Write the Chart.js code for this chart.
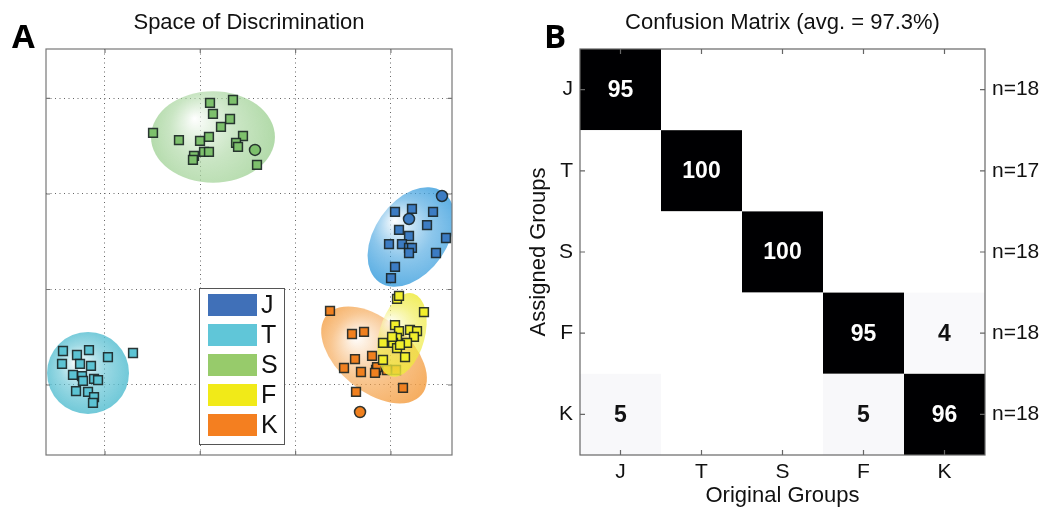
<!DOCTYPE html>
<html>
<head>
<meta charset="utf-8">
<script src="https://cdn.jsdelivr.net/npm/chart.js@4.4.1/dist/chart.umd.min.js"></script>
<style>
  html, body { margin: 0; padding: 0; background: #fff; }
  body { width: 1051px; height: 518px; position: relative; overflow: hidden; }
  .panel { position: absolute; top: 0; }
  .tag { position: absolute; font-family: 'Open Sans', sans-serif; font-weight: 700; font-size: 33px; line-height: 33px; color: #000; }
</style>
</head>
<body>
<div class="panel" style="left:0"><canvas id="space" width="493" height="518"></canvas></div>
<div class="panel" style="left:514px"><canvas id="confusion" width="537" height="518"></canvas></div>
<div class="tag" style="left:12px; top:19px">A</div>
<div class="tag" style="left:544px; top:19px">B</div>
<script>
// group codes, legend order
const groups = ['J', 'T', 'S', 'F', 'K'];

// discriminant scores of the training samples (squares)
const ptsJ = [[4.043, 2.812], [4.221, 2.843], [4.442, 2.812], [4.379, 2.675], [4.085, 2.623], [4.190, 2.560],
              [3.980, 2.476], [4.116, 2.476], [4.190, 2.435], [4.221, 2.435], [4.190, 2.382], [4.578, 2.539],
              [4.473, 2.382], [4.043, 2.236], [4.001, 2.120]];
const ptsT = [[0.559, 1.356], [0.706, 1.314], [0.832, 1.366], [1.031, 1.293], [1.294, 1.335], [0.549, 1.220],
              [0.738, 1.220], [0.853, 1.199], [0.664, 1.105], [0.759, 1.094], [0.769, 1.042], [0.885, 1.063],
              [0.927, 1.052], [0.696, 0.937], [0.822, 0.927], [0.885, 0.874], [0.874, 0.812]];
const ptsS = [[1.504, 3.639], [1.776, 3.565], [1.997, 3.555], [2.091, 3.597], [2.102, 3.953], [2.133, 3.838],
              [2.343, 3.984], [2.312, 3.785], [2.217, 3.702], [2.448, 3.607], [2.375, 3.534], [2.396, 3.492],
              [2.039, 3.440], [2.091, 3.440], [1.934, 3.398], [1.923, 3.356], [2.595, 3.304]];
const ptsF = [[4.064, 1.901], [4.085, 1.932], [4.347, 1.764], [4.043, 1.628], [4.085, 1.565], [4.200, 1.576],
              [4.274, 1.565], [4.064, 1.492], [4.242, 1.503], [3.917, 1.440], [4.022, 1.440], [4.169, 1.440],
              [4.064, 1.387], [4.148, 1.293], [3.917, 1.262], [4.095, 1.419], [4.012, 1.503]];
const ptsK = [[3.361, 1.775], [3.592, 1.534], [3.718, 1.555], [3.623, 1.272], [3.802, 1.304], [3.508, 1.178],
              [3.686, 1.136], [3.844, 1.157], [3.854, 1.188], [3.959, 1.157], [4.054, 1.157], [4.127, 0.969],
              [3.634, 0.927], [3.833, 1.126]];

// held-out samples (circles)
const testJ = [[4.536, 2.979], [4.190, 2.738]];
const testT = [];
const testS = [[2.574, 3.461]];
const testF = [];
const testK = [[3.676, 0.717]];

// 95% ellipses: centre x, centre y, semi-axis a, semi-axis b, angle of a (deg)
const ellJ = [4.211, 2.550, 0.58, 0.38, 55];
const ellT = [0.822, 1.126, 0.43, 0.43, 0];
const ellS = [2.133, 3.597, 0.65, 0.48, 0];
const ellF = [4.116, 1.524, 0.45, 0.24, 75];
const ellK = [3.823, 1.314, 0.65, 0.38, -40];

const gridX = [1, 2, 3, 4];
const gridY = [1, 2, 3, 4];

// confusion matrix in %, rows = assigned group, columns = original group
const confJ = [95, 0, 0, 0, 0];
const confT = [0, 100, 0, 0, 0];
const confS = [0, 0, 100, 0, 0];
const confF = [0, 0, 0, 95, 4];
const confK = [5, 0, 0, 5, 96];
const groupSizes = ['n=18', 'n=17', 'n=18', 'n=18', 'n=18'];

Chart.defaults.font.family = "'Liberation Sans', Arial, sans-serif";
Chart.defaults.color = '#111';

const pts = { J: ptsJ, T: ptsT, S: ptsS, F: ptsF, K: ptsK };
const tests = { J: testJ, T: testT, S: testS, F: testF, K: testK };
const ells = { J: ellJ, T: ellT, S: ellS, F: ellF, K: ellK };
const confRows = [confJ, confT, confS, confF, confK];

const fillCol = { J: '#3c7cc3', T: '#5cc3d3', S: '#7dc06c', F: '#f2ef2b', K: '#f0801f' };
const swatchCol = { J: '#4070b8', T: '#60c6d8', S: '#97cb6b', F: '#f1ea18', K: '#f47f20' };
const ellCol = { J: [62, 160, 222], T: [90, 192, 210], S: [165, 212, 155], F: [238, 234, 60], K: [244, 160, 70] };
// higher order is drawn first: S, T, J, K, then F on top
const drawOrder = { J: 3, T: 4, S: 5, K: 2, F: 1 };

// ellipse of each group, painted just before its markers
const ellipses = {
  id: 'ellipses',
  beforeDatasetDraw(chart, args) {
    const g = chart.data.datasets[args.index].label;
    const [cx, cy, a, b, ang] = ells[g];
    const { ctx, chartArea, scales: { x, y } } = chart;
    const unit = x.getPixelForValue(1) - x.getPixelForValue(0);
    const px = x.getPixelForValue(cx), py = y.getPixelForValue(cy);
    const ra = a * unit, rb = b * unit;
    const R = Math.max(ra, rb);
    const [r, gg, bb] = ellCol[g];
    ctx.save();
    ctx.beginPath();
    ctx.rect(chartArea.left, chartArea.top, chartArea.width, chartArea.height);
    ctx.clip();
    ctx.beginPath();
    ctx.ellipse(px, py, ra, rb, -ang * Math.PI / 180, 0, Math.PI * 2);
    const grad = ctx.createRadialGradient(px - R * 0.3, py - R * 0.3, 0, px, py, R * 1.1);
    grad.addColorStop(0, 'rgba(255,255,255,0.7)');
    grad.addColorStop(0.5, `rgba(${r},${gg},${bb},0.6)`);
    grad.addColorStop(1, `rgba(${r},${gg},${bb},0.9)`);
    ctx.fillStyle = grad;
    ctx.fill();
    ctx.restore();
  }
};

// plot box with inward ticks, then the legend block
const spaceFrame = {
  id: 'spaceFrame',
  afterDatasetsDraw(chart) {
    const { ctx, chartArea: ca, scales: { x, y } } = chart;
    ctx.save();
    ctx.strokeStyle = '#777';
    ctx.lineWidth = 1.2;
    ctx.strokeRect(ca.left, ca.top, ca.width, ca.height);
    ctx.beginPath();
    gridX.forEach(v => {
      const px = x.getPixelForValue(v);
      ctx.moveTo(px, ca.bottom); ctx.lineTo(px, ca.bottom - 4);
      ctx.moveTo(px, ca.top); ctx.lineTo(px, ca.top + 4);
    });
    gridY.forEach(v => {
      const py = y.getPixelForValue(v);
      ctx.moveTo(ca.left, py); ctx.lineTo(ca.left + 4, py);
      ctx.moveTo(ca.right, py); ctx.lineTo(ca.right - 4, py);
    });
    ctx.stroke();

    // legend
    const lx = ca.left + 153, ly = ca.top + 239;
    ctx.fillStyle = '#fff';
    ctx.fillRect(lx, ly, 85, 156);
    ctx.strokeStyle = '#555';
    ctx.lineWidth = 1;
    ctx.strokeRect(lx + 0.5, ly + 0.5, 85, 156);
    ctx.font = "25px 'Liberation Sans', Arial, sans-serif";
    ctx.textBaseline = 'middle';
    ctx.textAlign = 'left';
    groups.forEach((g, i) => {
      const top = ly + 6 + i * 30;
      ctx.fillStyle = swatchCol[g];
      ctx.fillRect(lx + 9, top, 49, 22);
      ctx.fillStyle = '#111';
      ctx.fillText(g, lx + 62, top + 12);
    });
    ctx.restore();
  }
};

new Chart(document.getElementById('space'), {
  type: 'scatter',
  data: {
    datasets: groups.map(g => ({
      label: g,
      data: pts[g].concat(tests[g]).map(([x, y]) => ({ x, y })),
      order: drawOrder[g],
      backgroundColor: fillCol[g],
      borderColor: 'rgba(25,35,35,0.9)',
      borderWidth: 1.5,
      pointStyle: c => c.dataIndex >= pts[g].length ? 'circle' : 'rect',
      pointRadius: c => c.dataIndex >= pts[g].length ? 5.5 : 6.2
    }))
  },
  options: {
    responsive: false,
    animation: false,
    layout: { padding: { left: 46, right: 41, top: 0, bottom: 63 } },
    plugins: {
      legend: { display: false },
      tooltip: { enabled: false },
      title: {
        display: true,
        text: 'Space of Discrimination',
        color: '#111',
        font: { size: 22, weight: 'normal' },
        padding: { top: 10, bottom: 12.6 }
      }
    },
    scales: {
      x: {
        type: 'linear', min: 0.381, max: 4.641,
        afterBuildTicks: s => { s.ticks = gridX.map(v => ({ value: v })); },
        afterFit: s => { s.height = 0; },
        ticks: { display: false },
        grid: { color: '#666', lineWidth: 1, drawTicks: false },
        border: { display: false, dash: [1, 3.5] }
      },
      y: {
        type: 'linear', min: 0.267, max: 4.518,
        afterBuildTicks: s => { s.ticks = gridY.map(v => ({ value: v })); },
        afterFit: s => { s.width = 0; },
        ticks: { display: false },
        grid: { color: '#666', lineWidth: 1, drawTicks: false },
        border: { display: false, dash: [1, 3.5] }
      }
    }
  },
  plugins: [ellipses, spaceFrame]
});

// grey level for a percentage: 0 -> white, >= 95 -> black
const shade = v => {
  const t = Math.min(1, v / 95);
  const g = Math.round(255 * (1 - Math.pow(t, 1.2)));
  return `rgb(${g},${g},${Math.min(255, g + 2)})`;
};

const matrixCells = {
  id: 'matrixCells',
  beforeDatasetsDraw(chart) {
    const { ctx, scales: { x, y } } = chart;
    ctx.save();
    confRows.forEach((row, r) => {
      row.forEach((v, c) => {
        const x0 = x.getPixelForValue(c - 0.5), x1 = x.getPixelForValue(c + 0.5);
        const y0 = y.getPixelForValue(r - 0.5), y1 = y.getPixelForValue(r + 0.5);
        ctx.fillStyle = shade(v);
        ctx.fillRect(x0, y0, x1 - x0, y1 - y0);
        if (v > 0) {
          ctx.fillStyle = v > 50 ? '#fff' : '#111';
          ctx.font = "bold 23px 'Liberation Sans', Arial, sans-serif";
          ctx.textAlign = 'center';
          ctx.textBaseline = 'middle';
          ctx.fillText(String(v), x.getPixelForValue(c), y.getPixelForValue(r) + 1);
        }
      });
    });
    ctx.restore();
  },
  afterDatasetsDraw(chart) {
    const { ctx, chartArea: ca, scales: { x, y } } = chart;
    ctx.save();
    ctx.strokeStyle = '#666';
    ctx.lineWidth = 1.2;
    ctx.strokeRect(ca.left, ca.top, ca.width, ca.height);
    ctx.beginPath();
    groups.forEach((g, i) => {
      const px = x.getPixelForValue(i), py = y.getPixelForValue(i);
      ctx.moveTo(px, ca.bottom); ctx.lineTo(px, ca.bottom - 5);
      ctx.moveTo(px, ca.top); ctx.lineTo(px, ca.top + 5);
      ctx.moveTo(ca.left, py); ctx.lineTo(ca.left + 5, py);
      ctx.moveTo(ca.right, py); ctx.lineTo(ca.right - 5, py);
    });
    ctx.stroke();
    ctx.restore();
  }
};

const cells = confRows.flatMap((row, r) => row.map((v, c) => ({ x: groups[c], y: groups[r], v })));

new Chart(document.getElementById('confusion'), {
  type: 'scatter',
  data: { datasets: [{ data: cells, pointRadius: 0, pointHoverRadius: 0 }] },
  options: {
    responsive: false,
    animation: false,
    layout: { padding: 0 },
    plugins: {
      legend: { display: false },
      tooltip: { enabled: false },
      title: {
        display: true,
        text: 'Confusion Matrix (avg. = 97.3%)',
        color: '#111',
        font: { size: 22, weight: 'normal' },
        padding: { top: 10, bottom: 12.6 }
      }
    },
    scales: {
      x: {
        type: 'category', labels: groups, offset: true, position: 'bottom',
        afterFit: s => { s.height = 63; },
        grid: { display: false, drawTicks: false },
        border: { display: false },
        ticks: { color: '#111', font: { size: 21 }, padding: 5 },
        title: { display: true, text: 'Original Groups', color: '#111', font: { size: 22 }, padding: { top: 0, bottom: 9 } }
      },
      y: {
        type: 'category', labels: groups, offset: true, position: 'left',
        afterFit: s => { s.width = 66; },
        grid: { display: false, drawTicks: false },
        border: { display: false },
        ticks: { color: '#111', font: { size: 21 }, padding: 7 },
        title: { display: true, text: 'Assigned Groups', color: '#111', font: { size: 22 }, padding: { top: 12, bottom: 0 } }
      },
      y2: {
        type: 'category', labels: groupSizes, offset: true, position: 'right',
        afterFit: s => { s.width = 66; },
        grid: { display: false, drawTicks: false },
        border: { display: false },
        ticks: { color: '#111', font: { size: 21 }, padding: 7 }
      }
    }
  },
  plugins: [matrixCells]
});
</script>
</body>
</html>
